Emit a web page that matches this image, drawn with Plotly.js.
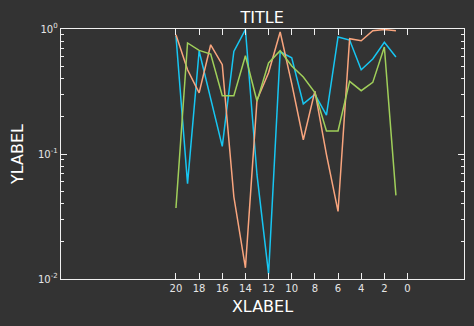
<!DOCTYPE html>
<html>
<head>
<meta charset="utf-8">
<script src="https://cdn.plot.ly/plotly-3.0.1.min.js"></script>
<style>html,body{margin:0;padding:0;background:#333333;}#chart{width:474px;height:326px;}</style>
</head>
<body>
<div id="chart"></div>
<script>
const xValues = [20,19,18,17,16,15,14,13,12,11,10,9,8,7,6,5,4,3,2,1];
const cyanSeries = [0.88,0.058,0.667,0.277,0.115,0.662,0.99,0.068,0.011,0.658,0.589,0.252,0.30,0.205,0.863,0.816,0.472,0.575,0.782,0.597];
const orangeSeries = [0.90,0.472,0.308,0.748,0.518,0.0455,0.0123,0.27,0.447,0.946,0.365,0.13,0.318,0.099,0.0347,0.836,0.806,0.97,0.99,0.97];
const greenSeries = [0.037,0.773,0.674,0.631,0.293,0.293,0.611,0.264,0.535,0.67,0.506,0.413,0.31,0.153,0.153,0.381,0.321,0.374,0.718,0.0467];
const xTickVals = [20,18,16,14,12,10,8,6,4,2,0];
const yTickVals = [0.01,0.1,1];
const yTickText = ['10<sup>-2</sup>','10<sup>-1</sup>','10<sup>0</sup>'];

const fontFam = 'DejaVu Sans, sans-serif';
const axisCol = '#f0f0f0';
const mk = (y, c) => ({x: xValues, y: y, type: 'scatter', mode: 'lines', line: {color: c, width: 1.5}, hoverinfo: 'skip'});
const data = [mk(cyanSeries, '#17c6f2'), mk(orangeSeries, '#f9a57e'), mk(greenSeries, '#a0cf5a')];

const layout = {
  width: 474, height: 326,
  paper_bgcolor: '#333333', plot_bgcolor: '#333333',
  margin: {l: 61, r: 10, t: 29, b: 47},
  showlegend: false,
  font: {family: fontFam, color: '#e6e6e6', size: 10},
  title: {text: 'TITLE', font: {family: fontFam, size: 16, color: '#ffffff'}, x: 0.553, xanchor: 'center', yref: 'container', y: 0.947, yanchor: 'middle'},
  xaxis: {
    range: [29.93, -4.88], showgrid: false, zeroline: false,
    tickmode: 'array', tickvals: xTickVals,
    ticks: 'inside', ticklen: 6, tickwidth: 1, tickcolor: axisCol,
    showline: true, linecolor: axisCol, linewidth: 1.3, mirror: 'ticks',
    tickfont: {family: fontFam, size: 10, color: '#e6e6e6'},
    title: {text: 'XLABEL', font: {family: fontFam, size: 16, color: '#ffffff'}, standoff: 7},
    automargin: false
  },
  yaxis: {
    type: 'log', range: [-2, 0], showgrid: false, zeroline: false,
    tickmode: 'array', tickvals: yTickVals, ticktext: yTickText,
    ticks: 'inside', ticklen: 6, tickwidth: 1, tickcolor: axisCol,
    minor: {ticks: 'inside', ticklen: 3, tickwidth: 1, tickcolor: axisCol, dtick: 'D1', showgrid: false},
    showline: true, linecolor: axisCol, linewidth: 1.3, mirror: 'ticks',
    tickfont: {family: fontFam, size: 10, color: '#e6e6e6'},
    title: {text: 'YLABEL', font: {family: fontFam, size: 16, color: '#ffffff'}, standoff: 10},
    automargin: false
  }
};
Plotly.newPlot('chart', data, layout, {displayModeBar: false, staticPlot: true});
</script>
</body>
</html>
